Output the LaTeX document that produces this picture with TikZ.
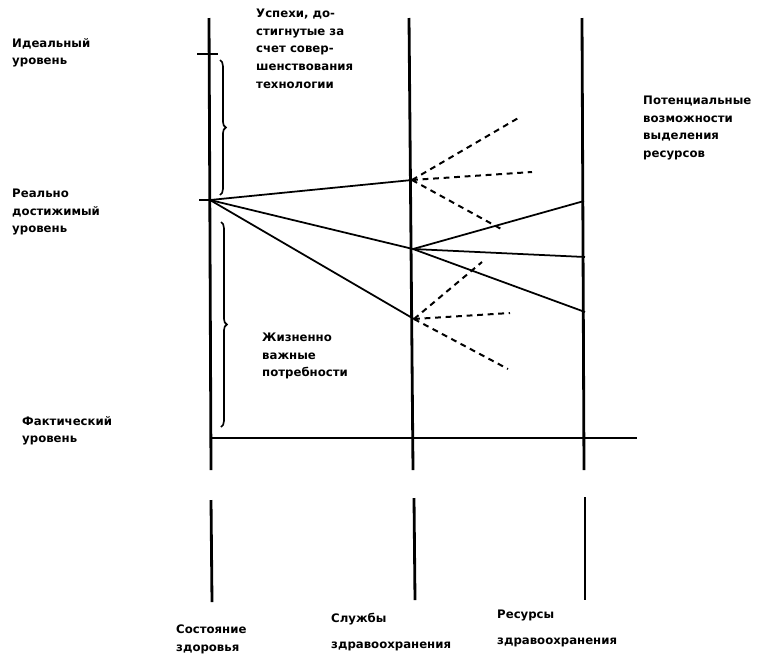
\documentclass[tikz,border=0pt]{standalone}
\usepackage{fontspec}
\setmainfont{DejaVu Sans}
\usetikzlibrary{positioning,decorations.pathreplacing,calc}

\begin{document}
\begin{tikzpicture}[x=0.03cm,y=-0.03cm]
       \newcommand{\twolines}[2]{#1\\[7pt]#2}

       \tikzstyle{axis}    = [line width=2.4pt]
       \tikzstyle{trend}   = [line width=1.5pt]
       \tikzstyle{option}  = [line width=1.7pt, dash pattern=on 5pt off 4pt]
       \tikzstyle{span}    = [line width=1.4pt, decorate, decoration={brace, amplitude=5pt}]
       \tikzstyle{caption} = [anchor=north west, inner sep=0pt, align=left, font=\bfseries\fontsize{10}{15}\selectfont]

       \useasboundingbox (0,0) rectangle (767,663);

       % axes
       \coordinate (healthtop)    at (209,18);
       \coordinate (healthend)    at (211,470);
       \coordinate (healthlow)    at (211,500);
       \coordinate (healthbot)    at (212,602);
       \coordinate (servicestop)  at (409,18);
       \coordinate (servicesend)  at (413,470);
       \coordinate (serviceslow)  at (414,498);
       \coordinate (servicesbot)  at (415,600);
       \coordinate (resourcestop) at (582,18);
       \coordinate (resourcesend) at (584,470);
       \coordinate (resourceslow) at (585,497);
       \coordinate (resourcesbot) at (585,600);

       \draw [axis] (healthtop)    -- (healthend);
       \draw [axis] (healthlow)    -- (healthbot);
       \draw [axis] (servicestop)  -- (servicesend);
       \draw [axis] (serviceslow)  -- (servicesbot);
       \draw [axis] (resourcestop) -- (resourcesend);
       \draw [axis] (resourceslow) -- (resourcesbot);

       % levels
       \coordinate (idealleft)  at (197,54);
       \coordinate (idealright) at (218,54);
       \coordinate (realleft)   at (199,200);
       \coordinate (real)       at (210,200);
       \coordinate (factleft)   at (212,438);
       \coordinate (factright)  at (637,438);

       \draw [axis]  (idealleft) -- (idealright);
       \draw [axis]  (realleft)  -- (real);
       \draw [trend] (factleft)  -- (factright);

       \draw [span] (220,60)  -- (220,195);
       \draw [span] (221,222) -- (221,427);

       % trends
       \coordinate (serviceshigh) at (412,180);
       \coordinate (servicesmid)  at (413,249);
       \coordinate (serviceslow2) at (414,319);
       \coordinate (resourceshigh) at (584,201);
       \coordinate (resourcesmid)  at (585,257);
       \coordinate (resourceslow2) at (585,312);

       \draw [trend] (real) -- (serviceshigh);
       \draw [trend] (real) -- (servicesmid);
       \draw [trend] (real) -- (serviceslow2);
       \draw [trend] (servicesmid) -- (resourceshigh);
       \draw [trend] (servicesmid) -- (resourcesmid);
       \draw [trend] (servicesmid) -- (resourceslow2);

       \coordinate (highup)   at (520,117);
       \coordinate (highflat) at (532,172);
       \coordinate (highdown) at (503,230);
       \coordinate (lowup)    at (482,262);
       \coordinate (lowflat)  at (510,313);
       \coordinate (lowdown)  at (508,369);

       \draw [option] (serviceshigh) -- (highup);
       \draw [option] (serviceshigh) -- (highflat);
       \draw [option] (serviceshigh) -- (highdown);
       \draw [option] (serviceslow2) -- (lowup);
       \draw [option] (serviceslow2) -- (lowflat);
       \draw [option] (serviceslow2) -- (lowdown);

       % labels
       \node [caption] (ideallabel)     at (12,38)   {Идеальный\\уровень};
       \node [caption] (reallabel)      at (12,189)  {Реально\\достижимый\\уровень};
       \node [caption] (factlabel)      at (22,416)  {Фактический\\уровень};
       \node [caption] (successlabel)   at (256,9)   {Успехи, до-\\стигнутые за\\счет совер-\\шенствования\\технологии};
       \node [caption] (vitallabel)     at (262,333) {Жизненно\\важные\\потребности};
       \node [caption] (potentlabel)    at (643,96)  {Потенциальные\\возможности\\выделения\\ресурсов};
       \node [caption] (healthlabel)    at (176,625) {Состояние\\здоровья};
       \node [caption] (serviceslabel)  at (331,613) {\twolines{Службы}{здравоохранения}};
       \node [caption] (resourceslabel) at (497,610) {\twolines{Ресурсы}{здравоохранения}};
     \end{tikzpicture}
\end{document}
